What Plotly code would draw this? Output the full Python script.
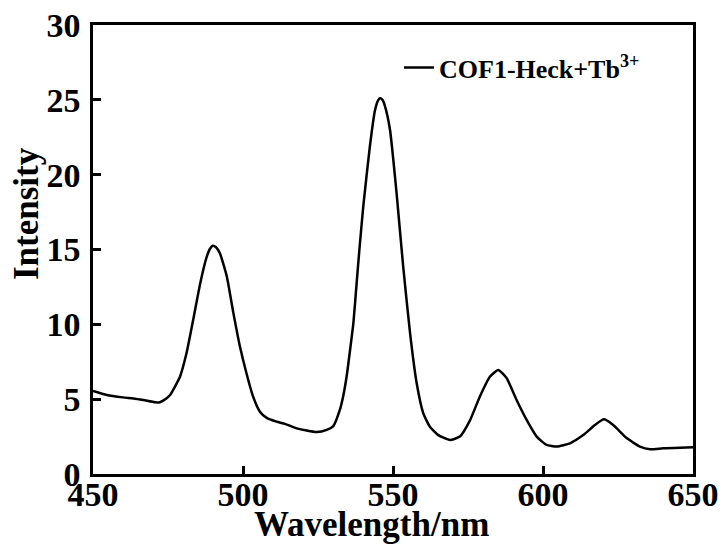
import plotly.graph_objects as go

wavelength = [450, 454.6, 460, 463.4, 466.8, 470.7, 472.3, 473.4, 475.7, 477.9, 479, 481.2,
              483.4, 485.7, 487.9, 489.0, 489.9, 491.0, 492.3, 494.6, 496.8, 499, 501.2, 503.4, 505.7,
              507.9, 511.2, 514, 517.9, 521.2, 524.6, 527.9, 530.1, 532.3, 533.4, 534.6,
              535.7, 536.8, 537.9, 538.8, 540.1, 542.3, 544, 545.0, 545.7, 546.5, 547.3, 549, 551.2,
              553.4, 555.7, 557.9, 560.1, 562.3, 565.1, 569, 572.3, 575.7, 579, 582.3,
              585.1, 587.9, 591.2, 594.6, 597.9, 601.2, 604.6, 609, 613.4, 617.3, 620.3,
              623.4, 627.9, 632.3, 635.7, 640.1, 645.7, 650]
intensity = [5.55, 5.28, 5.12, 5.05, 4.94, 4.79, 4.8, 4.9, 5.28, 6.06, 6.5, 8.1,
             10.3, 12.7, 14.5, 15.05, 15.25, 15.15, 14.75, 13.2, 10.75, 8.5, 6.7, 5.15, 4.15,
             3.75, 3.5, 3.35, 3.05, 2.9, 2.8, 2.95, 3.2, 4.3, 5.2, 6.6,
             8.3, 10.1, 12.8, 15.0, 17.9, 21.9, 24.3, 24.95, 25.1, 25.0, 24.6, 23.0, 18.75,
             13.85, 9.4, 6.06, 4.05, 3.16, 2.6, 2.27, 2.5, 3.6, 5.2, 6.5,
             6.95, 6.4, 4.95, 3.6, 2.5, 1.94, 1.83, 2.05, 2.6, 3.27, 3.65,
             3.27, 2.4, 1.83, 1.65, 1.72, 1.76, 1.78]

x_ticks = [450, 500, 550, 600, 650]
y_ticks = [0, 5, 10, 15, 20, 25, 30]
series_name = "COF1-Heck+Tb<sup>3+</sup>"

FONT = "Liberation Serif"

fig = go.Figure()
fig.add_trace(go.Scatter(
    x=wavelength, y=intensity, mode="lines", name=series_name,
    line=dict(color="black", width=2.5, shape="spline", smoothing=0.5),
))

axis_common = dict(
    showline=True, linecolor="black", linewidth=2.5, mirror=True,
    ticks="inside", ticklen=8, tickwidth=2.5, tickcolor="black",
    showgrid=False, zeroline=False, automargin=False,
    tickfont=dict(family=FONT, size=34, color="black", weight="bold"),
)

fig.update_layout(
    width=724, height=545,
    margin=dict(l=93, r=31, t=25, b=71),
    paper_bgcolor="white", plot_bgcolor="white",
    font=dict(family=FONT, color="black"),
    xaxis=dict(range=[450, 650], tickvals=x_ticks, ticklabelstandoff=-12, **axis_common),
    yaxis=dict(range=[0, 30], tickvals=y_ticks, ticklabelstandoff=3, **axis_common),
    showlegend=True,
    legend=dict(x=0.51, y=0.905, xanchor="left", yanchor="middle",
                bgcolor="rgba(0,0,0,0)",
                font=dict(family=FONT, size=26, color="black", weight="bold")),
    annotations=[
        dict(text="Wavelength/nm", xref="paper", yref="paper",
             x=(371 - 93) / 600, y=-(524 - 474) / 449, xanchor="center", yanchor="middle",
             showarrow=False, font=dict(family=FONT, size=35, color="black", weight="bold")),
        dict(text="Intensity", xref="paper", yref="paper", textangle=-90,
             x=-(93 - 27) / 600, y=(474 - 214) / 449, xanchor="center", yanchor="middle",
             showarrow=False, font=dict(family=FONT, size=35, color="black", weight="bold")),
    ],
)

fig.write_html("out.html")
